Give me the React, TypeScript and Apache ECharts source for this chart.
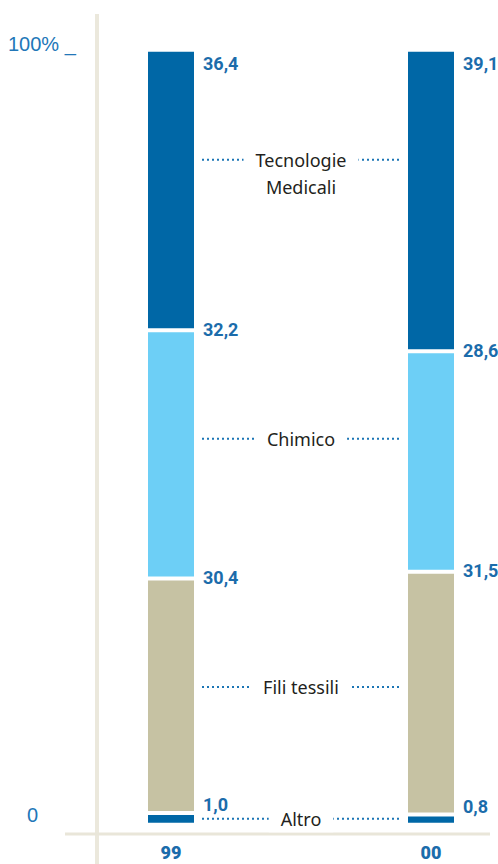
import React, { useEffect, useRef } from 'react';
import * as echarts from 'echarts';

// ---- Data ----
const years = ['99', '00'];
const segmentNames = ['Altro', 'Fili tessili', 'Chimico', 'Tecnologie\nMedicali'];
const altro = [1.0, 0.8];
const filiTessili = [30.4, 31.5];
const chimico = [32.2, 28.6];
const tecnologieMedicali = [36.4, 39.1];
const yTickLabels = ['0', '100% _'];

// ---- Styling / placement ----
const segmentValues = [altro, filiTessili, chimico, tecnologieMedicali];
const segColors = ['#0067a6', '#c6c2a3', '#6dcff6', '#0067a6'];
const labelLevels = [0.5, 17.6, 49.8, 86];
const valueLabelOffset = [-10, -3, -3, 11.5];
const HALF_W = 23;
const LABEL_BLUE = '#1b6cab';

const fmt = (v: number) => v.toFixed(1).replace('.', ',');

export default function App() {
  const ref = useRef<HTMLDivElement>(null);

  useEffect(() => {
    if (!ref.current) return;
    const chart = echarts.init(ref.current, undefined, { renderer: 'svg' });

    const barData: number[][] = [];
    years.forEach((_, i) => {
      let acc = 0;
      segmentValues.forEach((arr, s) => {
        const v = arr[i];
        barData.push([i, acc, acc + v, s, v]);
        acc += v;
      });
    });

    const labelData = labelLevels.map((lv, s) => [0, lv, s]);

    chart.setOption({
      animation: false,
      grid: { left: 171, right: 67, top: 51.7, bottom: 41.3 },
      xAxis: {
        type: 'category',
        data: years,
        boundaryGap: false,
        axisLine: { show: false },
        axisTick: { show: false },
        axisLabel: {
          margin: 21,
          fontSize: 18,
          fontWeight: 900,
          fontFamily: 'Roboto',
          color: LABEL_BLUE,
        },
      },
      yAxis: {
        type: 'value',
        min: 0,
        max: 100,
        interval: 100,
        axisLine: { show: false },
        axisTick: { show: false },
        splitLine: { show: false },
        axisLabel: {
          margin: 163,
          align: 'left',
          padding: [0, 0, 15, 0],
          formatter: (v: number) => (v === 100 ? '{a|' + yTickLabels[1] + '}' : '{b|' + yTickLabels[0] + '}'),
          rich: {
            a: { fontSize: 20, color: '#2277b8', fontFamily: 'Liberation Sans' },
            b: { fontSize: 20, color: '#2277b8', fontFamily: 'Liberation Sans', padding: [0, 0, 0, 19] },
          },
        },
      },
      graphic: [
        {
          type: 'line',
          shape: { x1: 97, y1: 14, x2: 97, y2: 864 },
          style: { stroke: '#ebe8dc', lineWidth: 4 },
          z: 0,
        },
        {
          type: 'line',
          shape: { x1: 65, y1: 834, x2: 490, y2: 834 },
          style: { stroke: '#e9e6d9', lineWidth: 3 },
          z: 0,
        },
      ],
      series: [
        {
          type: 'custom',
          data: barData,
          encode: { x: 0, y: [1, 2] },
          renderItem: (params: any, api: any) => {
            const xi = api.value(0);
            const start = api.value(1);
            const end = api.value(2);
            const s = api.value(3);
            const v = api.value(4);
            const top = api.coord([xi, end]);
            const bot = api.coord([xi, start]);
            const gap = s > 0 ? 4 : 0;
            return {
              type: 'group',
              children: [
                {
                  type: 'rect',
                  shape: { x: top[0] - HALF_W, y: top[1], width: HALF_W * 2, height: bot[1] - top[1] - gap },
                  style: { fill: segColors[s] },
                },
                {
                  type: 'text',
                  x: top[0] + HALF_W + 9,
                  y: top[1] + valueLabelOffset[s],
                  style: {
                    text: fmt(v),
                    fill: LABEL_BLUE,
                    fontSize: 18,
                    fontWeight: 'bold',
                    fontFamily: 'Roboto',
                    align: 'left',
                    verticalAlign: 'middle',
                  },
                },
              ],
            };
          },
        },
        {
          type: 'custom',
          data: labelData,
          encode: { x: 0, y: 1 },
          renderItem: (params: any, api: any) => {
            const lv = api.value(1);
            const s = api.value(2);
            const a = api.coord([0, lv]);
            const b = api.coord([1, lv]);
            return {
              type: 'group',
              children: [
                {
                  type: 'line',
                  shape: { x1: a[0] + HALF_W + 8, y1: a[1], x2: b[0] - HALF_W - 6, y2: b[1] },
                  style: { stroke: '#1b75b5', lineWidth: 2, lineDash: [2, 3] },
                },
                {
                  type: 'text',
                  x: (a[0] + b[0]) / 2,
                  y: a[1] - 13.5,
                  style: {
                    text: segmentNames[s],
                    fill: '#231f20',
                    fontSize: 18,
                    fontFamily: 'Noto Sans',
                    align: 'center',
                    verticalAlign: 'top',
                    lineHeight: 27,
                    backgroundColor: '#ffffff',
                    padding: [0, 12],
                  },
                },
              ],
            };
          },
        },
      ],
    });

    return () => chart.dispose();
  }, []);

  return (
    <div
      ref={ref}
      style={{ position: 'absolute', left: 0, top: 0, width: 498, height: 864 }}
    />
  );
}
